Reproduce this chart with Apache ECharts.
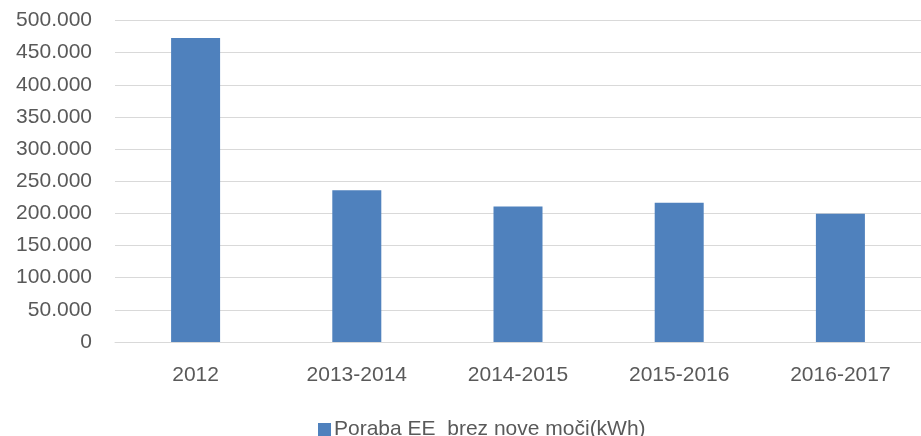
<!DOCTYPE html>
<html lang="sl">
<head>
  <meta charset="UTF-8">
  <title>Poraba EE</title>
  <style>
    html, body { margin: 0; padding: 0; background: #fff; }
    #chart { width: 921px; height: 436px; }
  </style>
</head>
<body>
  <div id="chart"></div>
  <script src="https://cdn.jsdelivr.net/npm/echarts@6/dist/echarts.min.js"></script>
  <script>
    // podatki
    const categories = ['2012', '2013-2014', '2014-2015', '2015-2016', '2016-2017']
    const poraba = [472700, 236000, 210900, 216600, 199500]
    const seriesName = 'Poraba EE  brez nove moči(kWh)'

    const font = 'Liberation Sans'
    const txt = '#595959'

    const chart = echarts.init(document.getElementById('chart'))

    const option = {
      animation: false,
      textStyle: { fontFamily: font },
      grid: { left: 115, right: 0, top: 20.5, bottom: 94, containLabel: false },
      legend: {
        left: 313,
        top: 414,
        itemWidth: 13,
        itemHeight: 13,
        itemGap: 6,
        icon: 'rect',
        textStyle: { color: txt, fontSize: 21, fontFamily: font, padding: [0, 0, 0, -2] },
        data: [seriesName]
      },
      xAxis: {
        type: 'category',
        data: categories,
        axisLine: { lineStyle: { color: '#d9d9d9', width: 1 } },
        axisTick: { show: false },
        axisLabel: { color: txt, fontSize: 21, margin: 23, fontFamily: font }
      },
      yAxis: {
        type: 'value',
        min: 0,
        max: 500000,
        interval: 50000,
        axisLine: { show: false },
        axisTick: { show: false },
        splitLine: { lineStyle: { color: '#d9d9d9', width: 1 } },
        axisLabel: {
          color: txt,
          fontSize: 21,
          margin: 23,
          fontFamily: font,
          formatter: v => v === 0 ? '0' : v.toLocaleString('de-DE')
        }
      },
      series: [{
        name: seriesName,
        type: 'bar',
        data: poraba,
        barWidth: 49,
        itemStyle: { color: '#4f81bd' }
      }]
    }

    chart.setOption(option)
  </script>
</body>
</html>
